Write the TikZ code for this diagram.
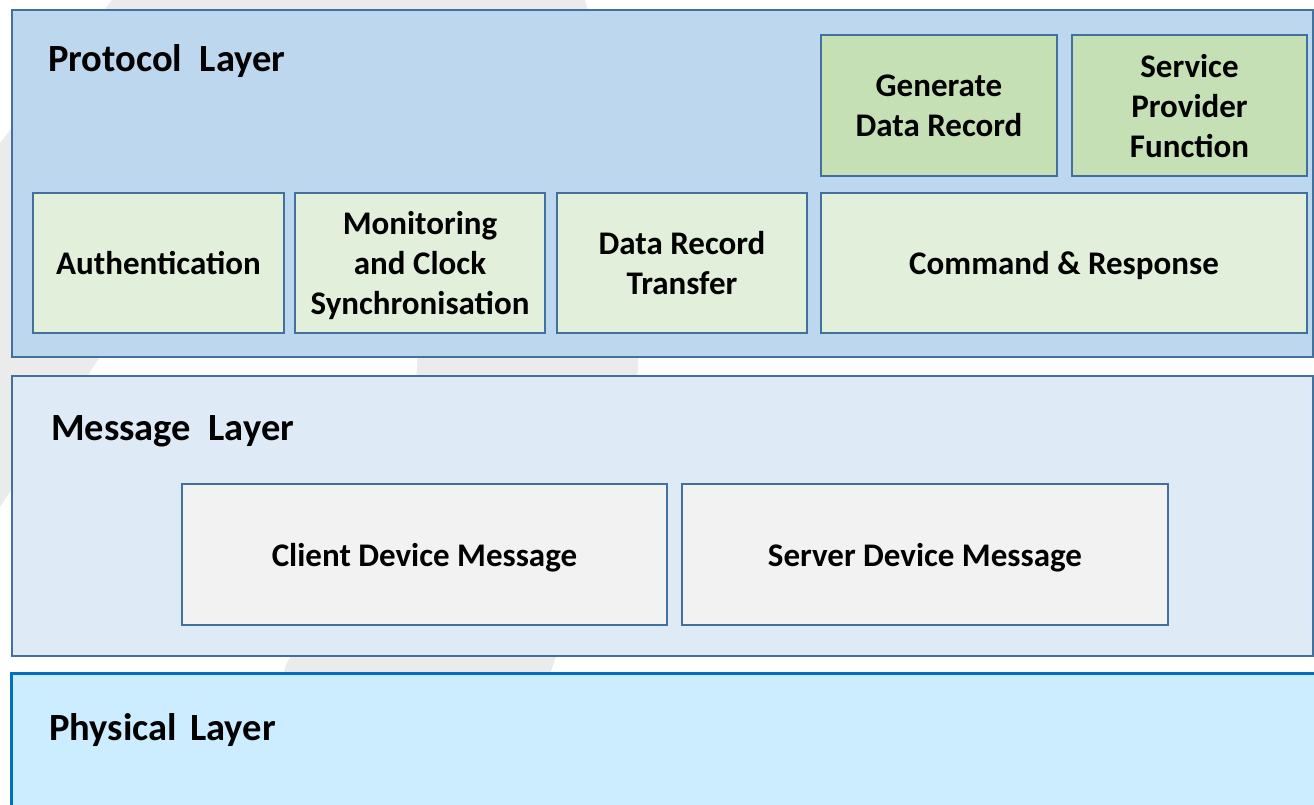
\documentclass[tikz,border=0pt]{standalone}
\usepackage{fontspec}
\setmainfont{Carlito}
\definecolor{boxline}{HTML}{41719C}
\definecolor{physline}{HTML}{0070C0}
\definecolor{protofill}{HTML}{BDD7EE}
\definecolor{msgfill}{HTML}{DEEAF6}
\definecolor{physfill}{HTML}{CCECFF}
\definecolor{paleg}{HTML}{E2EFDA}
\definecolor{midg}{HTML}{C5E0B4}
\definecolor{msgbox}{HTML}{F2F2F2}
\definecolor{wmark}{HTML}{EBEBEB}
\newcommand\blkfont{\fontsize{33}{40}\selectfont\bfseries}
\newcommand\titlefont{\fontsize{38.5}{44}\selectfont\bfseries}
\begin{document}
\begin{tikzpicture}[x=1pt,y=-1pt,
  layerbox/.style={draw=boxline, line width=2pt, inner sep=0pt},
  blk/.style={draw=boxline, line width=2pt, inner sep=0pt, align=center,
              font=\blkfont, text=black, text depth=0pt},
  layertitle/.style={anchor=base west, font=\titlefont, inner sep=0pt, text=black}]
  % page frame
  \clip (0,0) rectangle (1314,805);
  \fill[white] (0,0) rectangle (1314,805);
  % faint background emblem
  \fill[wmark] (0,143) -- (112,0) -- (112,-20) -- (585,-20) -- (585,0)
     .. controls (615,100) and (645,230) .. (638,366)
     .. controls (632,480) and (590,560) .. (553,665)
     -- (500,830) -- (-30,830) -- (-30,143) -- cycle;
  \fill[white] (286,665) .. controls (360,510) and (415,420) .. (417,366)
     .. controls (420,250) and (400,150) .. (330,150)
     .. controls (250,150) and (160,270) .. (100,357)
     -- (-100,657) -- (-100,830) -- (230,830) -- cycle;
  % layers
  \node[layerbox, fill=protofill, minimum width=1301pt, minimum height=347pt] (proto) at (662.5,183.5) {};
  \node[layerbox, fill=msgfill, minimum width=1301pt, minimum height=280pt] (msg) at (662.5,516) {};
  \node[draw=physline, line width=3pt, inner sep=0pt, fill=physfill, minimum width=1310pt, minimum height=160pt] (phys) at (666,753) {};
  % protocol layer blocks
  \node[blk, fill=paleg, minimum width=251pt, minimum height=140pt] (auth) at (158.5,263) {Authentication};
  \node[blk, fill=paleg, minimum width=250pt, minimum height=140pt] (mon) at (420,263) {Monitoring\\and Clock\\Synchronisation};
  \node[blk, fill=paleg, minimum width=250pt, minimum height=140pt] (drt) at (682,263) {Data Record\\Transfer};
  \node[blk, fill=paleg, minimum width=486pt, minimum height=140pt] (cmd) at (1064,263) {Command \& Response};
  \node[blk, fill=midg, minimum width=236pt, minimum height=141pt] (gen) at (939,105.5) {Generate\\Data Record};
  \node[blk, fill=midg, minimum width=235pt, minimum height=141pt] (spf) at (1189.5,105.5) {Service\\Provider\\Function};
  % message layer blocks
  \node[blk, fill=msgbox, minimum width=485pt, minimum height=141pt] (client) at (424.5,554.5) {Client Device Message};
  \node[blk, fill=msgbox, minimum width=486pt, minimum height=141pt] (server) at (925,554.5) {Server Device Message};
  % layer titles
  \node[layertitle] (ptitle) at (48,72) {Protocol~~Layer};
  \node[layertitle] (mtitle) at (51,440) {Message~~Layer};
  \node[layertitle] (htitle) at (49,740) {Physical\hspace{0.35em}Layer};
\end{tikzpicture}
\end{document}
